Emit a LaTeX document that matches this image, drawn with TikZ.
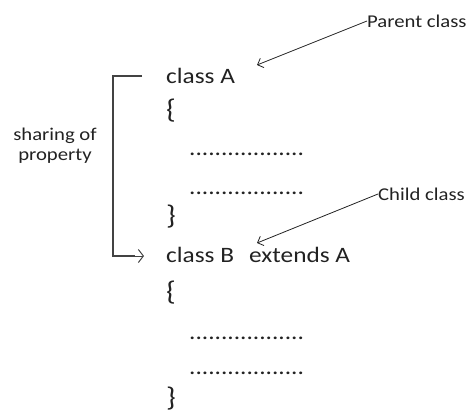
\documentclass[tikz,border=0pt]{standalone}
\usepackage{fontspec}
\setmainfont[FakeStretch=1.15]{Carlito}
\usetikzlibrary{arrows.meta}
\definecolor{ink}{HTML}{222222}
\tikzset{
  code/.style={font=\fontsize{22}{26}\selectfont, text=ink, inner sep=0pt},
  brace/.style={font=\fontsize{27}{30}\selectfont, text=ink, inner sep=0pt},
  note/.style={font=\fontsize{18}{21}\selectfont, text=ink, inner sep=0pt},
  pointer/.style={draw=ink, line width=0.8pt, -{Straight Barb[length=5pt,width=10pt]}},
  bracket/.style={draw=ink!85, line width=1.2pt}
}
\begin{document}
\begin{tikzpicture}[x=1pt, y=-1pt]
  \useasboundingbox (0,0) rectangle (468,413);

  % class A body
  \node[code, anchor=base west] (classA) at (166,83) {class A};
  \node[brace] (openA) at (171,111) {\{};
  \node[code, anchor=base west] (dotsA1) at (189,155) {..................};
  \node[code, anchor=base west] (dotsA2) at (189,194) {..................};
  \node[brace] (closeA) at (171,217) {\}};

  % class B body
  \node[code, anchor=base west] (classB) at (166,262) {class B};
  \node[code, anchor=base west] (extends) at (249,262) {extends A};
  \node[brace] (openB) at (171,293) {\{};
  \node[code, anchor=base west] (dotsB1) at (189,339) {..................};
  \node[code, anchor=base west] (dotsB2) at (189,374) {..................};
  \node[brace] (closeB) at (171,399) {\}};

  % labels
  \node[note, anchor=west] (parent) at (367,21) {Parent class};
  \node[note, anchor=west] (child) at (378,194) {Child class};
  \node[note, align=center] (share) at (55,146) {sharing of\\[-1pt]property};

  % pointers to the classes
  \coordinate (parentTip) at (257,65);
  \coordinate (childTip) at (257,243);
  \draw[pointer] (parent.west) -- (parentTip);
  \draw[pointer] (child.west) -- (childTip);

  % bracket carrying properties from A to B
  \coordinate (bTop) at (142,76);
  \coordinate (bEnd) at (144,256);
  \draw[bracket] (bTop) -- (113,76) -- (113,256) -- (135,256);
  \draw[ink!85, line width=1pt, -{Straight Barb[length=5pt,width=13pt]}] (132,256) -- (bEnd);
\end{tikzpicture}
\end{document}
